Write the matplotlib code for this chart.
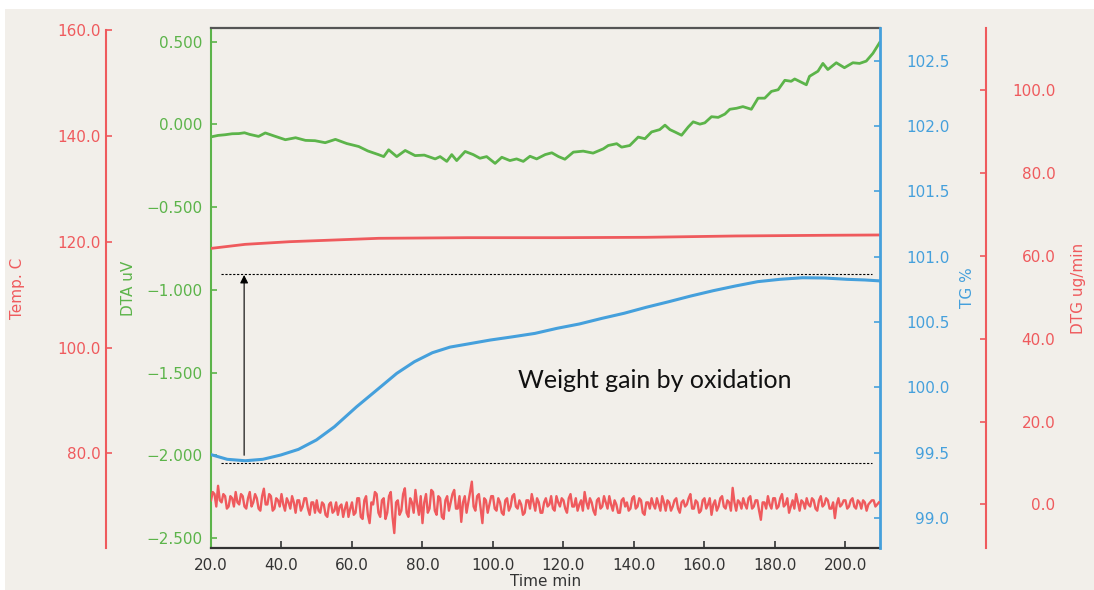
import numpy as np
import matplotlib
matplotlib.use("Agg")
import matplotlib.pyplot as plt
from matplotlib.patches import Rectangle

plt.rcParams["font.family"] = ["DejaVu Sans"]

# --- data (time in min) ---
temp_time = [20.2, 29.7, 42.3, 55.0, 67.6, 92.9, 118.2, 143.5, 168.8, 194.1, 209.7]
temp_c = [118.75, 119.5, 120.0, 120.32, 120.64, 120.76, 120.76, 120.83, 121.08, 121.21, 121.27]

tg_time = [20.0, 24.6, 29.7, 34.7, 39.8, 44.8, 49.9, 55.0, 61.3, 67.6, 72.7, 77.7,
           82.8, 87.8, 92.9, 99.2, 105.6, 111.9, 118.2, 124.5, 130.9, 137.2, 143.5,
           149.8, 156.1, 162.5, 168.8, 175.1, 181.4, 187.8, 194.1, 200.4, 205.5, 209.7]
tg_pct = [99.485, 99.449, 99.438, 99.449, 99.482, 99.525, 99.597, 99.698, 99.851,
          99.992, 100.107, 100.196, 100.265, 100.308, 100.332, 100.362, 100.387,
          100.413, 100.452, 100.485, 100.528, 100.567, 100.613, 100.655, 100.699,
          100.740, 100.776, 100.809, 100.827, 100.839, 100.837, 100.827, 100.822,
          100.815]

dta_time = [20.0, 22.0, 24.0, 26.0, 27.9, 29.5, 31.0, 33.5, 35.4, 38.0, 41.1, 44.0,
            46.8, 49.5, 52.4, 55.3, 58.5, 61.9, 64.5, 67.5, 69.0, 70.4, 72.7, 75.1,
            77.9, 80.5, 83.6, 85.0, 86.9, 88.3, 89.7, 92.1, 94.4, 96.3, 98.2, 100.6,
            102.5, 104.8, 106.7, 108.6, 110.5, 112.4, 114.8, 116.7, 118.6, 120.4,
            122.8, 125.6, 128.4, 131.3, 132.7, 135.1, 136.5, 138.8, 141.2, 143.1,
            145.0, 147.3, 148.8, 150.2, 151.6, 153.5, 155.4, 156.8, 158.7, 160.1,
            162.0, 163.9, 165.8, 167.2, 169.1, 170.9, 173.3, 175.2, 177.1, 179.0,
            180.9, 182.8, 184.6, 185.6, 187.5, 188.9, 189.8, 192.2, 193.6, 195.0,
            197.4, 199.7, 202.1, 204.0, 205.9, 207.8, 209.0, 209.7]
dta_uv = [-0.075, -0.066, -0.062, -0.056, -0.055, -0.050, -0.060, -0.072, -0.051,
          -0.070, -0.092, -0.080, -0.096, -0.098, -0.110, -0.090, -0.115, -0.133,
          -0.160, -0.182, -0.194, -0.153, -0.194, -0.157, -0.188, -0.185, -0.208,
          -0.194, -0.223, -0.182, -0.218, -0.163, -0.182, -0.204, -0.194, -0.235,
          -0.198, -0.218, -0.208, -0.223, -0.192, -0.208, -0.182, -0.171, -0.194,
          -0.210, -0.167, -0.161, -0.173, -0.147, -0.127, -0.116, -0.137, -0.127,
          -0.076, -0.086, -0.045, -0.031, -0.004, -0.031, -0.045, -0.065, -0.015,
          0.016, 0.002, 0.010, 0.047, 0.043, 0.063, 0.092, 0.098, 0.108, 0.092,
          0.159, 0.159, 0.200, 0.210, 0.267, 0.261, 0.275, 0.255, 0.240, 0.291,
          0.322, 0.369, 0.332, 0.373, 0.343, 0.373, 0.369, 0.383, 0.430, 0.471,
          0.495]

# DTG, two readings per minute from 20.0 to 209.5 min (one row = 10 min)
dtg_time = np.arange(20.0, 210.0, 0.5)
dtg_ug = [
    1.0, 3.0, 2.5, -0.5, 4.5, 1.0, 0.5, 2.5, 2.0, -1.0, -0.5, 2.0, 1.5, -0.5, 3.0, 0.5, 0.0, 2.5, 2.0, -0.5,
    -1.0, 1.5, 3.0, -0.5, 0.5, 2.5, 1.5, -1.0, -1.5, 2.0, 3.8, 0.0, 0.0, 2.5, 2.0, -1.5, -1.0, 1.5, 1.0, -0.5,
    2.5, 0.0, -1.5, 1.5, 0.5, -1.0, 2.0, 0.5, -2.0, 1.0, 1.0, -1.5, -0.5, 1.5, 1.5, -1.0, -2.5, 0.5, 0.5, -2.0,
    1.0, -1.5, -2.0, 0.5, 0.0, -2.5, -3.0, 0.0, 0.5, -2.0, -1.5, 0.5, -2.5, -0.5, 0.0, -3.0, -1.0, 0.5, -3.0, -1.0,
    0.5, -2.5, -2.0, 1.5, 1.5, -3.0, -3.5, 1.0, 2.0, -2.5, -4.5, 0.5, 0.0, 3.0, 2.5, -2.0, -3.0, 1.0, 1.5, -3.5,
    -2.0, 2.0, 3.0, -3.0, -6.9, 0.5, 1.0, -2.5, -1.5, 2.5, 3.9, -2.0, -3.0, 1.5, 0.5, -2.0, 3.5, 0.0, -2.5, 2.0,
    -4.5, 0.5, 2.5, -2.0, -1.0, 3.5, 3.0, -1.5, -2.5, 2.0, 1.5, -3.0, -3.5, 1.0, 2.0, -1.5, 0.5, 2.5, 3.5, -1.0,
    -1.0, 2.0, -4.2, 0.5, 2.0, -2.0, 0.5, 3.0, 5.5, -0.5, -1.5, 2.0, 2.5, -1.0, -4.5, 1.5, 1.0, -2.0, 0.0, 2.0,
    2.0, -1.0, -1.5, 1.5, 0.5, -2.0, -2.5, 1.0, 1.5, -1.5, -0.5, 2.0, 2.5, -0.5, -1.0, 1.0, 0.0, -2.5, -2.0, 1.0,
    1.0, -1.0, 2.5, 0.5, -1.5, 1.5, 0.5, -2.0, -2.0, 0.5, 1.5, -0.5, 0.0, 2.0, -1.0, -1.5, 2.0, 0.5, -0.5, 1.5,
    1.0, -1.0, -2.0, 1.5, 2.5, -0.5, -0.5, 1.5, -1.5, 0.0, 1.0, -1.5, 3.0, 0.5, -1.0, 1.5, 0.5, -1.5, -2.5, 1.0,
    1.5, -1.0, -0.5, 2.0, 0.5, -1.0, 2.0, 0.0, -1.5, 1.0, 0.0, -2.0, -2.0, 1.0, 1.5, -0.5, 0.5, -1.5, -1.0, 1.5,
    2.0, -1.0, -0.5, 1.5, 1.0, -2.0, -2.5, 0.5, 0.5, -1.0, 1.5, 0.0, -1.0, 1.5, 0.0, -1.5, 2.0, 0.5, -1.5, 1.0,
    0.5, -1.5, -0.5, 1.0, 1.5, -1.0, -2.0, 0.5, 1.0, -0.5, 0.0, 1.5, 2.5, -1.0, -1.0, 1.0, 0.5, -2.0, -1.5, 1.0,
    1.5, -1.0, 0.0, 1.5, -2.5, 0.0, 1.0, -1.5, -0.5, 1.5, 2.0, -0.5, -1.0, 1.0, 0.5, -1.5, 4.0, 0.5, -1.5, 1.0,
    0.5, -1.0, 1.5, 0.0, -1.0, 1.5, 2.0, -1.0, -0.5, 1.0, 1.0, -1.5, -3.7, 0.5, 0.5, -1.0, 2.0, 0.0, -1.0, 1.5,
    1.5, -1.0, -0.5, 1.5, 2.5, -0.5, 0.0, 1.5, -2.0, -0.5, 1.0, -1.0, 2.5, 0.5, -1.5, 1.0, 0.5, -1.0, 1.5, 0.0,
    -0.5, 1.5, 1.0, -1.0, -1.5, 1.0, 2.0, -0.5, 0.0, 1.5, 1.0, -1.0, -1.0, 0.5, -3.3, 0.0, 1.5, -0.5, 0.0, 1.0,
    1.0, -1.0, -0.5, 1.0, 1.5, -0.5, -1.0, 1.0, 0.5, -1.0, 1.0, 0.5, -1.5, 0.0, 0.5, 1.0, 1.0, -0.5, 0.0, 0.5,
]

# weight gain marker levels on the TG scale
tg_low = 99.42
tg_high = 100.87
arrow_time = 29.4

time_ticks = [20, 40, 60, 80, 100, 120, 140, 160, 180, 200]
temp_ticks = [80, 100, 120, 140, 160]
dta_ticks = [0.5, 0.0, -0.5, -1.0, -1.5, -2.0, -2.5]
tg_ticks = [99.0, 99.5, 100.0, 100.5, 101.0, 101.5, 102.0, 102.5]
dtg_ticks = [0, 20, 40, 60, 80, 100]

RED = "#ef5a5d"
GREEN = "#5cb44a"
BLUE = "#45a0dc"
DARK = "#333333"
PAPER = "#f2efea"


def fmt(values, digits):
    return [f"{v:.{digits}f}".replace("-", "\u2212") for v in values]


W, H = 1094, 590
fig = plt.figure(figsize=(W / 100, H / 100), dpi=100)
fig.patch.set_facecolor("white")
fig.patches.append(Rectangle((5 / W, 0), 1, 1 - 9 / H, transform=fig.transFigure,
                             facecolor=PAPER, edgecolor="none", zorder=-10))

left, right, top, bottom = 211, 880, 28, 548
ax = fig.add_axes([left / W, 1 - bottom / H, (right - left) / W, (bottom - top) / H])
ax_temp = ax.twinx()
ax_tg = ax.twinx()
ax_dtg = ax.twinx()

tick_fs = 11

for a in (ax, ax_temp, ax_tg, ax_dtg):
    a.set_facecolor("none")
    for s in a.spines.values():
        s.set_visible(False)

# DTA (main axes, green left spine)
ax.plot(dta_time, dta_uv, color=GREEN, lw=2.0, zorder=3)
ax.set_xlim(20, 209.8)
ax.set_ylim(-2.559, 0.583)
ax.spines["left"].set_visible(True)
ax.spines["left"].set_color(GREEN)
ax.spines["left"].set_linewidth(1.5)
ax.spines["bottom"].set_visible(True)
ax.spines["bottom"].set_color(DARK)
ax.spines["bottom"].set_linewidth(1.6)
ax.spines["top"].set_visible(True)
ax.spines["top"].set_color("#555555")
ax.spines["top"].set_linewidth(1.6)
ax.set_yticks(dta_ticks)
ax.set_yticklabels(fmt(dta_ticks, 3))
ax.tick_params(axis="y", direction="in", length=4, width=1.2, colors=GREEN,
               labelsize=tick_fs, pad=6)
ax.set_xticks(time_ticks)
ax.set_xticklabels(fmt(time_ticks, 1))
ax.tick_params(axis="x", direction="in", length=5, width=1.2, colors=DARK,
               labelsize=tick_fs, pad=7)
ax.set_xlabel("Time min", fontsize=tick_fs, color=DARK, labelpad=1)
ax.set_ylabel("DTA uV", fontsize=tick_fs, color=GREEN)
ax.yaxis.set_label_coords((128 - left) / (right - left), 0.5)

# Temperature (outer left red axis)
ax_temp.plot(temp_time, temp_c, color=RED, lw=2.0, zorder=3)
ax_temp.set_ylim(62.15, 160.36)
ax_temp.yaxis.set_ticks_position("left")
ax_temp.yaxis.set_label_position("left")
sp = ax_temp.spines["left"]
sp.set_visible(True)
sp.set_position(("axes", (106 - left) / (right - left)))
sp.set_color(RED)
sp.set_linewidth(1.5)
sp.set_bounds(62.15, 160)
ax_temp.set_yticks(temp_ticks)
ax_temp.set_yticklabels(fmt(temp_ticks, 1))
ax_temp.tick_params(axis="y", direction="in", length=4, width=1.2, colors=RED,
                    labelsize=tick_fs, pad=4)
ax_temp.set_ylabel("Temp. C", fontsize=tick_fs, color=RED)
ax_temp.yaxis.set_label_coords((17 - left) / (right - left), 0.5)

# TG (blue right spine)
ax_tg.plot(tg_time, tg_pct, color=BLUE, lw=2.2, zorder=3)
ax_tg.set_ylim(98.77, 102.751)
sp = ax_tg.spines["right"]
sp.set_visible(True)
sp.set_color(BLUE)
sp.set_linewidth(2.0)
ax_tg.set_yticks(tg_ticks)
ax_tg.set_yticklabels(fmt(tg_ticks, 1))
ax_tg.tick_params(axis="y", direction="in", length=4, width=1.2, colors=BLUE,
                  labelsize=tick_fs, pad=50)
for lbl in ax_tg.get_yticklabels():
    lbl.set_horizontalalignment("right")
ax_tg.set_ylabel("TG %", fontsize=tick_fs, color=BLUE)
ax_tg.yaxis.set_label_coords((968 - left) / (right - left), 0.5)

# weight gain marker
ax_tg.hlines([tg_low, tg_high], 22.7, 207.4, colors="black", lw=0.8,
             linestyles=(0, (2, 1.5)), zorder=2)
ax_tg.annotate("", xy=(arrow_time, tg_high - 0.01), xytext=(arrow_time, 99.48),
               arrowprops=dict(arrowstyle="-|>", color="black", lw=0.8,
                               mutation_scale=12, shrinkA=0, shrinkB=0))
ax_tg.text(146, 100.05, "Weight gain by oxidation", fontsize=18,
           family="Lato", color="#111111", ha="center", va="center")

# DTG (outer right red axis)
ax_dtg.plot(dtg_time, dtg_ug, color=RED, lw=1.7, zorder=3)
ax_dtg.set_ylim(-10.5, 114.9)
sp = ax_dtg.spines["right"]
sp.set_visible(True)
sp.set_position(("axes", (986 - left) / (right - left)))
sp.set_color(RED)
sp.set_linewidth(1.5)
ax_dtg.set_yticks(dtg_ticks)
ax_dtg.set_yticklabels(fmt(dtg_ticks, 1))
ax_dtg.tick_params(axis="y", direction="in", length=4, width=1.2, colors=RED,
                   labelsize=tick_fs, pad=50)
for lbl in ax_dtg.get_yticklabels():
    lbl.set_horizontalalignment("right")
ax_dtg.set_ylabel("DTG ug/min", fontsize=tick_fs, color=RED)
ax_dtg.yaxis.set_label_coords((1078 - left) / (right - left), 0.5)

for a in (ax, ax_temp, ax_tg, ax_dtg):
    a.yaxis.label.set_horizontalalignment("center")
    a.yaxis.label.set_verticalalignment("center")
    a.yaxis.label.set_rotation(90)

fig.savefig("out.png", dpi=100, facecolor=fig.get_facecolor())
